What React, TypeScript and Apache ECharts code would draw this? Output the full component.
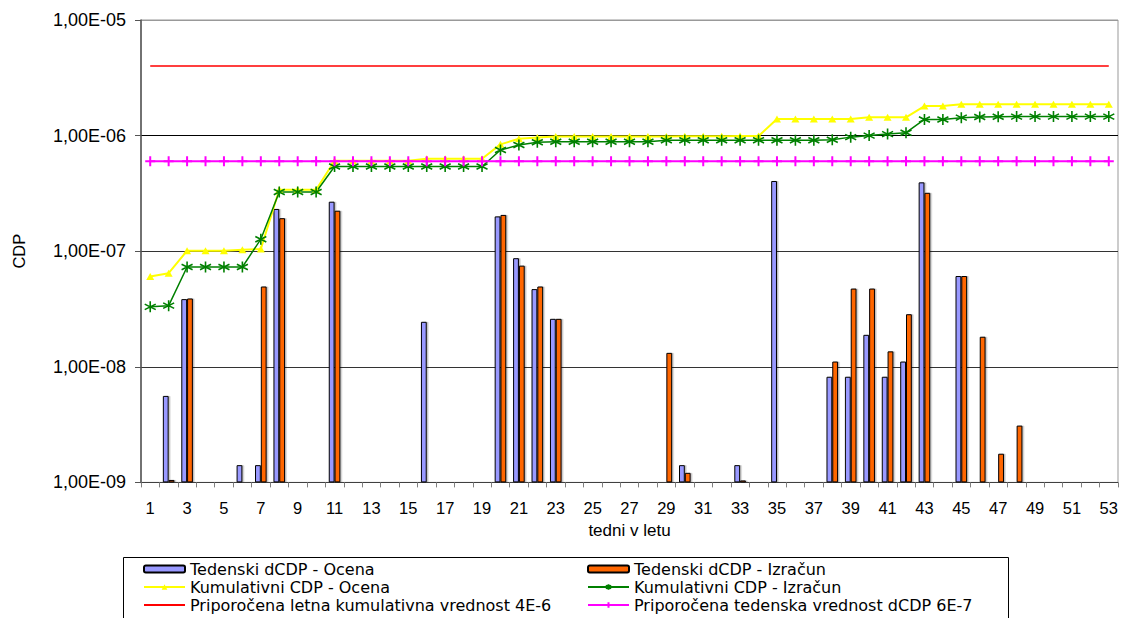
import React, { useEffect, useRef } from 'react';
import * as echarts from 'echarts';

const weeks: string[] = Array.from({ length: 53 }, (_, i) => String(i + 1));

// Tedenski dCDP - Ocena (weekly estimate)
const ocena: (number | null)[] = [
  null, 5.6e-9, 3.85e-8, null, null, 1.41e-9, 1.41e-9, 2.32e-7, null, null,
  2.68e-7, null, null, null, null, 2.45e-8, null, null, null, 2.0e-7,
  8.7e-8, 4.7e-8, 2.6e-8, null, null, null, null, null, null, 1.41e-9,
  null, null, 1.41e-9, null, 4.05e-7, null, null, 8.2e-9, 8.2e-9, 1.89e-8,
  8.2e-9, 1.11e-8, 3.94e-7, null, 6.1e-8, null, null, null, null, null,
  null, null, null,
];

// Tedenski dCDP - Izračun (weekly calculation)
const izracun: (number | null)[] = [
  null, 1.05e-9, 3.9e-8, null, null, null, 4.95e-8, 1.93e-7, null, null,
  2.24e-7, null, null, null, null, null, null, null, null, 2.06e-7,
  7.5e-8, 4.95e-8, 2.6e-8, null, null, null, null, null, 1.32e-8, 1.21e-9,
  null, null, 1.04e-9, null, null, null, null, 1.11e-8, 4.75e-8, 4.75e-8,
  1.36e-8, 2.85e-8, 3.2e-7, null, 6.1e-8, 1.82e-8, 1.77e-9, 3.1e-9, null, null,
  null, null, null,
];

// Kumulativni CDP - Ocena
const kumOcena: number[] = [
  6.05e-8, 6.45e-8, 1.01e-7, 1.01e-7, 1.01e-7, 1.03e-7, 1.045e-7, 3.4e-7, 3.4e-7, 3.4e-7,
  6.05e-7, 6.05e-7, 6.05e-7, 6.05e-7, 6.05e-7, 6.3e-7, 6.3e-7, 6.3e-7, 6.3e-7, 8.4e-7,
  9.4e-7, 9.65e-7, 9.8e-7, 9.8e-7, 9.8e-7, 9.8e-7, 9.8e-7, 9.8e-7, 9.8e-7, 9.85e-7,
  9.85e-7, 9.85e-7, 9.9e-7, 9.9e-7, 1.39e-6, 1.39e-6, 1.39e-6, 1.39e-6, 1.39e-6, 1.44e-6,
  1.44e-6, 1.44e-6, 1.8e-6, 1.8e-6, 1.87e-6, 1.87e-6, 1.87e-6, 1.87e-6, 1.87e-6, 1.87e-6,
  1.87e-6, 1.87e-6, 1.87e-6,
];

// Kumulativni CDP - Izračun
const kumIzracun: number[] = [
  3.3e-8, 3.38e-8, 7.3e-8, 7.3e-8, 7.3e-8, 7.3e-8, 1.27e-7, 3.25e-7, 3.25e-7, 3.25e-7,
  5.4e-7, 5.4e-7, 5.4e-7, 5.4e-7, 5.4e-7, 5.4e-7, 5.4e-7, 5.4e-7, 5.4e-7, 7.5e-7,
  8.3e-7, 8.75e-7, 8.85e-7, 8.85e-7, 8.85e-7, 8.85e-7, 8.85e-7, 8.85e-7, 9.1e-7, 9.12e-7,
  9.12e-7, 9.12e-7, 9.13e-7, 9.13e-7, 9.13e-7, 9.13e-7, 9.13e-7, 9.2e-7, 9.7e-7, 1.0e-6,
  1.03e-6, 1.06e-6, 1.38e-6, 1.38e-6, 1.43e-6, 1.45e-6, 1.455e-6, 1.46e-6, 1.46e-6, 1.46e-6,
  1.46e-6, 1.46e-6, 1.46e-6,
];

// Recommended reference values
const LETNA = 4e-6;
const TEDENSKA = 6e-7;
const letna: number[] = weeks.map(() => LETNA);
const tedenska: number[] = weeks.map(() => TEDENSKA);

const yTicks = ['1,00E-09', '1,00E-08', '1,00E-07', '1,00E-06', '1,00E-05'];

const NAMES = {
  ocena: 'Tedenski dCDP - Ocena',
  izracun: 'Tedenski dCDP - Izračun',
  kumOcena: 'Kumulativni CDP - Ocena',
  kumIzracun: 'Kumulativni CDP - Izračun',
  letna: 'Priporočena letna kumulativna vrednost 4E-6',
  tedenska: 'Priporočena tedenska vrednost dCDP 6E-7',
};

const FONT = '"Liberation Sans", Arial, sans-serif';
const LEGEND_FONT = '"DejaVu Sans", Verdana, sans-serif';

const STAR = 'path://M5,0L5,10M0.67,2.5L9.33,7.5M0.67,7.5L9.33,2.5';
const PLUS = 'path://M0,5L10,5M5,0L5,10';

function yFormatter(v: number): string {
  const e = Math.round(Math.log10(v));
  const idx = e + 9;
  return yTicks[idx] ?? '';
}

export default function App() {
  const ref = useRef<HTMLDivElement>(null);
  useEffect(() => {
    document.body.style.margin = '0';
    const chart = echarts.init(ref.current!, undefined, { renderer: 'svg' });
    const legendCommon = {
      orient: 'vertical',
      itemWidth: 41,
      itemHeight: 7,
      itemGap: 2,
      padding: 0,
      selectedMode: false,
      textStyle: { fontFamily: LEGEND_FONT, fontSize: 16, color: '#000', lineHeight: 16 },
    };
    chart.setOption({
      animation: false,
      backgroundColor: '#fff',
      grid: {
        left: 141, right: 5, top: 20, bottom: 135.6,
        show: true, borderColor: '#999', borderWidth: 1, backgroundColor: 'transparent',
      },
      legend: [
        {
          ...legendCommon, left: 143, top: 561,
          data: [
            NAMES.ocena,
            NAMES.kumOcena,
            { name: NAMES.letna, itemStyle: { opacity: 0 } },
          ],
        },
        { ...legendCommon, left: 587, top: 561, data: [NAMES.izracun, NAMES.kumIzracun, NAMES.tedenska] },
      ],
      graphic: [
        {
          type: 'rect', z: -1,
          shape: { x: 123.5, y: 557.5, width: 885, height: 100 },
          style: { fill: 'none', stroke: '#000', lineWidth: 1 },
        },
      ],
      xAxis: {
        type: 'category',
        data: weeks,
        boundaryGap: true,
        name: 'tedni v letu',
        nameLocation: 'middle',
        nameGap: 40,
        nameTextStyle: { fontFamily: FONT, fontSize: 17, color: '#000' },
        axisLine: { show: true, onZero: false, lineStyle: { color: '#404040', width: 1 } },
        axisTick: { show: true, interval: 0, length: 5, lineStyle: { color: '#808080' } },
        axisLabel: { interval: 1, margin: 17, fontFamily: FONT, fontSize: 16.5, color: '#000' },
        splitLine: { show: false },
      },
      yAxis: {
        type: 'log',
        logBase: 10,
        min: 1e-9,
        max: 1e-5,
        startValue: 1e-9,
        name: 'CDP',
        nameLocation: 'middle',
        nameRotate: 90,
        nameGap: 114,
        nameTextStyle: { fontFamily: FONT, fontSize: 16.5, color: '#000' },
        axisLine: { show: true, lineStyle: { color: '#555', width: 1.5 } },
        axisTick: { show: true, length: 6, lineStyle: { color: '#555' } },
        axisLabel: { margin: 15, formatter: yFormatter, fontFamily: FONT, fontSize: 18, color: '#000' },
        splitLine: { show: true, lineStyle: { color: ['#333', '#333', '#333', '#000', '#999'], width: 1 } },
        minorTick: { show: false },
      },
      series: [
        {
          name: NAMES.ocena, type: 'bar', data: ocena,
          barWidth: 5.8, barGap: '0%',
          itemStyle: {
            color: '#9999FF', borderColor: '#000', borderWidth: 1,
            shadowColor: 'rgba(0,0,0,0.25)', shadowOffsetX: 1.5, shadowOffsetY: 0, shadowBlur: 0,
          },
        },
        {
          name: NAMES.izracun, type: 'bar', data: izracun,
          barWidth: 5.8, barGap: '0%',
          itemStyle: {
            color: '#FF6600', borderColor: '#000', borderWidth: 1,
            shadowColor: 'rgba(0,0,0,0.25)', shadowOffsetX: 1.5, shadowOffsetY: 0, shadowBlur: 0,
          },
        },
        {
          name: NAMES.kumOcena, type: 'line', data: kumOcena,
          symbol: 'triangle', symbolSize: [8, 7], showAllSymbol: true,
          lineStyle: { color: '#FFFF00', width: 2 },
          itemStyle: { color: '#FFFF00' },
        },
        {
          name: NAMES.kumIzracun, type: 'line', data: kumIzracun,
          symbol: STAR, symbolSize: 11, showAllSymbol: true,
          lineStyle: { color: '#008000', width: 1.5 },
          itemStyle: { color: '#008000', borderColor: '#008000', borderWidth: 1.6 },
        },
        {
          name: NAMES.letna, type: 'line', data: letna,
          symbol: 'none',
          lineStyle: { color: '#FF0000', width: 1.5 },
          itemStyle: { color: '#FF0000' },
        },
        {
          name: NAMES.tedenska, type: 'line', data: tedenska,
          symbol: PLUS, symbolSize: 10, showAllSymbol: true,
          lineStyle: { color: '#FF00FF', width: 2 },
          itemStyle: { color: '#FF00FF', borderColor: '#FF00FF', borderWidth: 2 },
        },
      ],
    } as any);
    return () => chart.dispose();
  }, []);
  return <div ref={ref} style={{ width: 1123, height: 618 }} />;
}
